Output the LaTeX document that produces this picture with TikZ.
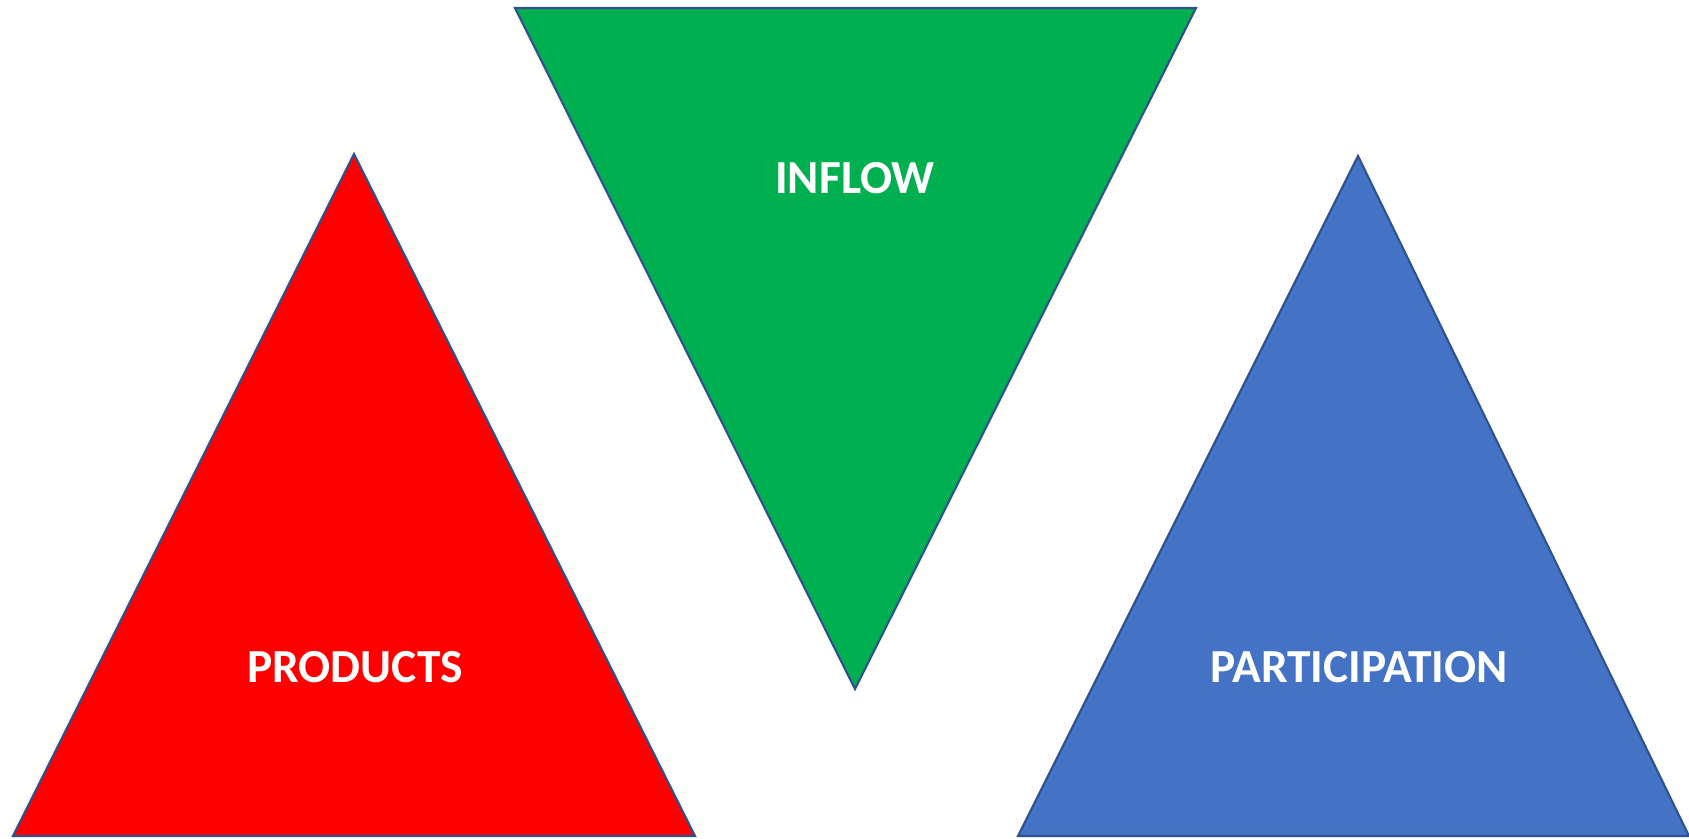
\documentclass[tikz,border=0pt]{standalone}
\usepackage{fontspec}
\setmainfont{Carlito}
\usepackage{tikz}
\definecolor{prodred}{HTML}{FF0000}
\definecolor{inflowgreen}{HTML}{00B050}
\definecolor{partblue}{HTML}{4472C4}
\definecolor{edgeblue}{HTML}{2F528F}

\begin{document}
\begin{tikzpicture}[x=0.02cm,y=-0.02cm,
    tri/.style={draw=edgeblue, line width=1.2pt, line join=miter},
    lbl/.style={text=white, font=\fontsize{27}{32}\selectfont\bfseries, inner sep=0pt}]
        \useasboundingbox (0,0) rectangle (1689,838);
        % corners of the three triangles
        \coordinate (pa) at (354,154);
        \coordinate (pl) at (13,836);
        \coordinate (pr) at (695,836);
        \coordinate (il) at (515,8);
        \coordinate (ir) at (1196,8);
        \coordinate (ib) at (855,689);
        \coordinate (ba) at (1358,156);
        \coordinate (bl) at (1018,836);
        \coordinate (br) at (1689,836);
        \draw[tri, fill=prodred] (pa) -- (pr) -- (pl) -- cycle;
        \draw[tri, fill=inflowgreen] (il) -- (ir) -- (ib) -- cycle;
        \draw[tri, fill=partblue] (ba) -- (br) -- (bl) -- cycle;
        \node[lbl] (products) at (355,667) {PRODUCTS};
        \node[lbl] (inflow) at (855,178) {INFLOW};
        \node[lbl] (participation) at (1359,667) {PARTICIPATION};
    \end{tikzpicture}
\end{document}
